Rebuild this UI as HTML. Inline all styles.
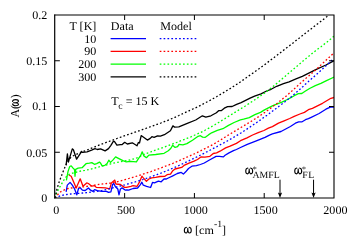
<!DOCTYPE html>
<html><head><meta charset="utf-8"><title>A(omega)</title>
<style>html,body{margin:0;padding:0;background:#fff;width:356px;height:249px;overflow:hidden;font-family:"Liberation Serif",serif}</style>
</head><body>
<svg width="356" height="249" viewBox="0 0 356 249" style="position:absolute;left:0;top:0">
<rect width="356" height="249" fill="#fff"/>
<clipPath id="c"><rect x="54.85" y="15.0" width="279.15" height="183.0"/></clipPath>
<g clip-path="url(#c)" fill="none" stroke-linejoin="round" stroke-linecap="butt"><g transform="translate(0.4,0.5)">
<path d="M65.7,191.3 L66.9,184.6 L69.7,181.9 L71.9,184.6 L74.2,188.5 L76.4,194.3 L78.1,188.0 L79.8,187.2 L82.0,189.6 L84.8,190.0 L88.0,187.5 L90.2,189.7 L92.5,190.8 L94.2,189.1 L97.0,190.2 L101.5,190.8 L106.0,190.8 L108.2,191.9 L110.5,191.3 L112.2,184.0 L113.3,182.9 L115.0,186.3 L117.4,188.5 L118.6,194.3 L120.0,188.5 L121.7,187.4 L125.1,189.7 L126.5,189.4 L128.2,189.7 L132.7,188.0 L137.2,187.5 L140.0,184.1 L141.5,181.7 L142.9,184.7 L146.2,185.8 L150.2,187.0 L152.1,181.9 L154.1,182.4 L158.0,180.7 L160.8,181.3 L163.6,178.5 L166.0,178.5 L167.9,177.5 L172.4,175.3 L176.9,173.0 L180.8,171.9 L183.0,173.6 L185.3,171.3 L188.1,168.0 L191.5,165.7 L196.0,165.2 L200.0,164.0 L203.9,162.5 L209.5,159.2 L215.7,155.9 L219.0,155.8 L223.0,156.4 L224.7,154.7 L228.6,152.4 L233.1,150.2 L236.0,149.0 L240.1,147.0 L246.9,143.8 L255.3,140.6 L257.8,139.6 L264.6,136.8 L269.1,134.6 L272.0,133.4 L280.6,131.0 L290.0,126.0 L295.0,122.7 L298.3,121.4 L301.7,121.3 L305.1,119.2 L308.0,118.2 L310.3,117.1 L318.7,113.0 L325.5,108.7 L330.5,106.3 L333.9,106.5" stroke="#0000ff" stroke-width="1.3"/>
<path d="M68.5,174.5 L70.8,175.8 L75.8,187.5 L79.8,178.3 L82.6,185.8 L86.3,182.4 L88.0,183.0 L91.4,185.7 L94.2,185.2 L95.9,186.9 L104.9,187.4 L109.3,188.4 L111.0,182.4 L114.4,179.6 L115.5,183.5 L120.0,184.0 L124.0,186.9 L126.0,186.9 L130.5,185.8 L132.7,185.2 L136.7,185.8 L138.9,181.9 L141.5,175.7 L142.9,177.4 L146.0,180.7 L148.5,178.5 L151.3,177.4 L155.2,176.8 L159.7,176.0 L164.5,175.8 L166.7,174.2 L170.1,173.6 L172.4,170.2 L174.6,168.5 L181.3,166.9 L184.2,164.6 L189.2,162.4 L193.7,160.7 L197.1,159.0 L200.5,156.5 L204.4,156.7 L209.5,155.8 L212.9,153.0 L216.2,152.4 L219.6,150.7 L225.2,147.4 L229.7,145.7 L236.0,142.9 L240.1,140.2 L246.6,137.3 L252.2,134.5 L257.8,132.2 L263.5,130.0 L268.0,127.7 L272.0,126.1 L278.1,122.6 L283.7,120.3 L289.3,118.0 L293.8,115.8 L299.5,113.5 L304.0,111.9 L308.0,109.2 L312.0,107.9 L322.1,102.8 L330.5,97.8 L333.9,96.9" stroke="#ff0000" stroke-width="1.3"/>
<path d="M66.0,179.8 L67.6,171.1 L69.3,166.0 L70.8,165.4 L72.7,167.7 L74.1,168.9 L74.6,175.8 L75.3,168.9 L77.7,167.7 L81.7,167.2 L85.6,163.2 L89.0,162.6 L91.4,162.1 L94.0,163.8 L96.3,163.1 L99.1,161.6 L100.0,162.4 L101.7,165.3 L104.5,164.8 L106.7,163.0 L108.4,159.7 L110.1,161.9 L112.4,159.6 L115.2,156.4 L118.0,157.9 L122.5,160.2 L125.8,161.3 L130.3,160.8 L136.0,161.3 L138.2,157.9 L140.1,155.4 L141.8,151.3 L143.5,155.4 L146.0,157.2 L148.5,154.6 L155.3,154.0 L163.7,152.8 L167.9,150.3 L170.5,147.8 L172.2,144.7 L174.7,146.9 L177.2,146.1 L178.6,143.8 L182.5,144.3 L186.5,143.1 L192.1,139.7 L197.7,135.8 L200.0,135.2 L202.2,136.6 L204.6,136.9 L208.0,134.4 L211.2,132.3 L216.9,129.9 L222.5,128.2 L228.1,124.9 L233.7,122.0 L240.0,119.3 L243.2,118.7 L248.9,117.1 L254.5,114.2 L260.1,111.9 L263.7,109.6 L268.0,107.4 L272.5,105.1 L277.0,103.4 L281.5,101.7 L286.0,99.5 L290.5,97.2 L293.8,95.2 L298.0,93.2 L301.4,93.0 L304.7,90.8 L309.2,88.0 L314.9,85.2 L320.5,82.9 L326.1,80.1 L333.9,76.5" stroke="#00ff00" stroke-width="1.3"/>
<path d="M65.7,164.9 L67.0,153.3 L68.0,161.5 L71.9,148.4 L73.0,149.2 L76.2,158.7 L80.3,152.4 L81.1,150.9 L82.2,151.9 L86.7,151.3 L91.2,149.7 L94.6,148.2 L96.9,149.0 L100.2,148.3 L104.7,150.4 L108.1,148.1 L110.5,144.8 L113.1,140.6 L114.3,141.3 L116.5,144.7 L120.0,144.1 L121.8,144.0 L124.3,141.8 L126.9,143.5 L131.9,142.3 L136.6,145.3 L138.0,142.0 L139.1,142.5 L140.8,135.1 L142.5,136.2 L147.0,139.6 L149.8,137.9 L151.5,136.2 L153.7,136.8 L157.1,135.3 L160.0,135.6 L164.0,134.2 L170.0,130.3 L172.5,125.4 L174.2,126.6 L178.4,126.3 L186.9,122.9 L195.3,119.5 L202.0,115.3 L205.4,116.6 L210.5,115.3 L216.0,112.2 L218.2,110.2 L221.1,110.0 L223.9,107.7 L227.2,106.1 L231.7,106.0 L236.2,103.8 L240.7,102.1 L245.2,99.9 L249.7,97.6 L254.2,95.6 L260.6,93.3 L266.2,90.5 L270.7,88.8 L276.3,85.8 L283.1,83.2 L288.7,81.3 L295.0,78.7 L301.9,75.8 L315.4,69.2 L325.5,64.5 L330.5,61.9 L333.9,60.2" stroke="#000000" stroke-width="1.3"/>
</g><g transform="translate(0.1,0.1)">
<path d="M54.9,198.0 L56.9,197.0 L58.9,196.2 L60.9,195.6 L62.9,195.1 L64.8,194.7 L66.8,194.4 L68.8,194.2 L70.8,193.9 L72.8,193.7 L74.8,193.5 L76.8,193.4 L78.8,193.2 L80.8,193.1 L82.8,192.9 L84.8,192.7 L86.8,192.5 L88.8,192.3 L90.8,192.0 L92.8,191.8 L94.8,191.6 L96.8,191.3 L98.8,191.0 L100.8,190.7 L102.8,190.3 L104.8,189.8 L106.8,189.3 L108.8,188.8 L110.8,188.3 L112.8,187.8 L114.8,187.3 L116.8,186.8 L118.8,186.3 L120.8,185.7 L122.8,185.2 L124.8,184.7 L126.8,184.1 L128.8,183.6 L130.8,183.0 L132.8,182.5 L134.8,181.9 L136.8,181.3 L138.8,180.7 L140.8,180.0 L142.8,179.4 L144.8,178.7 L146.8,178.1 L148.8,177.4 L150.8,176.7 L152.8,176.0 L154.8,175.2 L156.8,174.5 L158.8,173.7 L160.8,173.0 L162.8,172.2 L164.8,171.4 L166.8,170.6 L168.8,169.8 L170.8,168.9 L172.8,168.1 L174.8,167.2 L176.8,166.3 L178.8,165.4 L180.8,164.5 L182.8,163.6 L184.8,162.6 L186.8,161.7 L188.8,160.7 L190.8,159.7 L192.8,158.7 L194.8,157.8 L196.8,156.8 L198.8,155.8 L200.8,154.8 L202.8,153.8 L204.8,152.8 L206.8,151.7 L208.8,150.7 L210.8,149.6 L212.8,148.6 L214.8,147.5 L216.8,146.5 L218.8,145.4 L220.8,144.3 L222.8,143.3 L224.8,142.2 L226.8,141.1 L228.8,140.0 L230.8,138.8 L232.8,137.7 L234.8,136.5 L236.8,135.3 L238.8,134.1 L240.8,132.9 L242.8,131.6 L244.8,130.3 L246.8,129.0 L248.8,127.7 L250.8,126.3 L252.8,125.0 L254.8,123.6 L256.9,122.2 L258.9,120.8 L260.9,119.4 L262.9,117.9 L264.9,116.5 L266.9,115.1 L268.9,113.6 L270.9,112.2 L272.9,110.7 L274.9,109.2 L276.9,107.7 L278.9,106.2 L280.9,104.7 L282.9,103.2 L284.9,101.7 L286.9,100.1 L288.9,98.5 L290.9,96.9 L292.9,95.2 L294.9,93.5 L296.9,91.7 L298.9,90.0 L300.9,88.2 L302.9,86.4 L304.9,84.5 L306.9,82.8 L308.9,81.0 L310.9,79.2 L312.9,77.5 L314.9,75.7 L316.9,73.9 L318.9,72.1 L320.9,70.3 L322.9,68.5 L324.9,66.7 L326.9,64.8 L328.9,62.9 L330.9,61.0 L332.9,59.1 L333.5,58.5" stroke="#0000ff" stroke-width="1.3" stroke-dasharray="1.7 2.18"/>
<path d="M54.9,198.0 L56.9,195.3 L58.9,193.2 L60.9,191.5 L62.9,190.4 L64.8,189.6 L66.8,188.8 L68.8,188.2 L70.8,187.9 L72.8,187.7 L74.8,187.5 L76.8,187.3 L78.8,187.2 L80.8,187.0 L82.8,186.8 L84.8,186.6 L86.8,186.3 L88.8,186.0 L90.8,185.7 L92.8,185.3 L94.8,185.0 L96.8,184.7 L98.8,184.3 L100.8,184.1 L102.8,183.8 L104.8,183.6 L106.8,183.4 L108.8,183.2 L110.8,182.9 L112.8,182.5 L114.8,182.1 L116.8,181.7 L118.8,181.2 L120.8,180.7 L122.8,180.2 L124.8,179.6 L126.8,179.0 L128.8,178.4 L130.8,177.8 L132.8,177.2 L134.8,176.6 L136.8,176.0 L138.8,175.4 L140.8,174.7 L142.8,174.1 L144.8,173.5 L146.8,172.8 L148.8,172.1 L150.8,171.5 L152.8,170.8 L154.8,170.0 L156.8,169.3 L158.8,168.6 L160.8,167.8 L162.8,167.1 L164.8,166.3 L166.8,165.5 L168.8,164.8 L170.8,164.0 L172.8,163.2 L174.8,162.3 L176.8,161.5 L178.8,160.7 L180.8,159.8 L182.8,158.9 L184.8,158.0 L186.8,157.1 L188.8,156.2 L190.8,155.3 L192.8,154.4 L194.8,153.5 L196.8,152.5 L198.8,151.6 L200.8,150.6 L202.8,149.6 L204.8,148.6 L206.8,147.6 L208.8,146.6 L210.8,145.5 L212.8,144.4 L214.8,143.3 L216.8,142.1 L218.8,140.9 L220.8,139.7 L222.8,138.4 L224.8,137.1 L226.8,135.9 L228.8,134.6 L230.8,133.4 L232.8,132.2 L234.8,131.0 L236.8,129.8 L238.8,128.6 L240.8,127.4 L242.8,126.2 L244.8,125.0 L246.8,123.8 L248.8,122.6 L250.8,121.4 L252.8,120.1 L254.8,118.9 L256.9,117.6 L258.9,116.3 L260.9,114.9 L262.9,113.5 L264.9,112.2 L266.9,110.7 L268.9,109.3 L270.9,107.8 L272.9,106.3 L274.9,104.8 L276.9,103.3 L278.9,101.7 L280.9,100.2 L282.9,98.5 L284.9,96.9 L286.9,95.3 L288.9,93.5 L290.9,91.7 L292.9,89.9 L294.9,88.1 L296.9,86.3 L298.9,84.4 L300.9,82.6 L302.9,80.8 L304.9,79.0 L306.9,77.3 L308.9,75.6 L310.9,73.9 L312.9,72.2 L314.9,70.4 L316.9,68.6 L318.9,66.7 L320.9,64.8 L322.9,62.9 L324.9,61.1 L326.9,59.2 L328.9,57.3 L330.9,55.5 L332.9,53.6 L333.9,52.6" stroke="#ff0000" stroke-width="1.3" stroke-dasharray="1.7 2.18"/>
<path d="M54.9,198.0 L56.9,191.9 L58.9,188.2 L60.9,185.0 L62.9,181.3 L64.8,178.4 L66.8,175.8 L68.8,174.4 L70.8,173.6 L72.8,172.9 L74.8,172.4 L76.8,171.9 L78.8,171.3 L80.8,170.9 L82.8,170.5 L84.8,170.2 L86.8,169.9 L88.8,169.4 L90.8,169.0 L92.8,168.5 L94.8,167.9 L96.8,167.4 L98.8,166.9 L100.8,166.3 L102.8,165.8 L104.8,165.3 L106.8,164.7 L108.8,164.2 L110.8,163.7 L112.8,163.2 L114.8,162.8 L116.8,162.4 L118.8,162.0 L120.8,161.6 L122.8,161.2 L124.8,160.8 L126.8,160.4 L128.8,160.0 L130.8,159.5 L132.8,159.0 L134.8,158.4 L136.8,157.7 L138.8,156.9 L140.8,155.9 L142.8,154.9 L144.8,154.0 L146.8,153.2 L148.8,152.4 L150.8,151.7 L152.8,150.9 L154.8,150.2 L156.8,149.5 L158.8,148.8 L160.8,148.1 L162.8,147.4 L164.8,146.7 L166.8,146.0 L168.8,145.2 L170.8,144.5 L172.8,143.7 L174.8,142.9 L176.8,142.2 L178.8,141.4 L180.8,140.6 L182.8,139.9 L184.8,139.1 L186.8,138.3 L188.8,137.5 L190.8,136.7 L192.8,135.8 L194.8,134.9 L196.8,134.1 L198.8,133.1 L200.8,132.2 L202.8,131.2 L204.8,130.2 L206.8,129.1 L208.8,128.0 L210.8,126.9 L212.8,125.7 L214.8,124.6 L216.8,123.4 L218.8,122.2 L220.8,120.9 L222.8,119.7 L224.8,118.5 L226.8,117.2 L228.8,116.0 L230.8,114.8 L232.8,113.6 L234.8,112.3 L236.8,111.1 L238.8,109.8 L240.8,108.6 L242.8,107.3 L244.8,106.1 L246.8,104.8 L248.8,103.5 L250.8,102.2 L252.8,100.9 L254.8,99.6 L256.9,98.2 L258.9,96.8 L260.9,95.4 L262.9,94.0 L264.9,92.6 L266.9,91.1 L268.9,89.6 L270.9,88.0 L272.9,86.4 L274.9,84.8 L276.9,83.1 L278.9,81.4 L280.9,79.7 L282.9,78.0 L284.9,76.3 L286.9,74.5 L288.9,72.9 L290.9,71.2 L292.9,69.5 L294.9,67.8 L296.9,66.1 L298.9,64.4 L300.9,62.7 L302.9,61.0 L304.9,59.3 L306.9,57.6 L308.9,56.0 L310.9,54.3 L312.9,52.7 L314.9,51.1 L316.9,49.6 L318.9,48.0 L320.9,46.6 L322.9,45.1 L324.9,43.5 L326.9,42.0 L328.9,40.3 L330.9,38.7 L332.9,36.9 L333.8,36.1" stroke="#00ff00" stroke-width="1.3" stroke-dasharray="1.7 2.18"/>
<path d="M54.9,198.0 L56.9,188.7 L58.9,182.3 L60.9,176.9 L62.9,171.8 L64.8,167.2 L66.8,162.6 L68.8,159.3 L70.8,157.3 L72.8,155.9 L74.8,154.9 L76.8,154.0 L78.8,153.1 L80.8,152.3 L82.8,151.6 L84.8,150.8 L86.8,150.0 L88.8,149.2 L90.8,148.3 L92.8,147.5 L94.8,146.7 L96.8,145.9 L98.8,145.1 L100.8,144.3 L102.8,143.6 L104.8,142.8 L106.8,142.1 L108.8,141.4 L110.8,140.6 L112.8,139.9 L114.8,139.2 L116.8,138.4 L118.8,137.7 L120.8,137.0 L122.8,136.3 L124.8,135.6 L126.8,134.9 L128.8,134.2 L130.8,133.5 L132.8,132.8 L134.8,132.1 L136.8,131.4 L138.8,130.7 L140.8,130.0 L142.8,129.3 L144.8,128.6 L146.8,127.9 L148.8,127.2 L150.8,126.5 L152.8,125.8 L154.8,125.1 L156.8,124.3 L158.8,123.6 L160.8,122.9 L162.8,122.1 L164.8,121.3 L166.8,120.6 L168.8,119.8 L170.8,118.9 L172.8,118.1 L174.8,117.2 L176.8,116.3 L178.8,115.4 L180.8,114.4 L182.8,113.5 L184.8,112.6 L186.8,111.7 L188.8,110.7 L190.8,109.8 L192.8,108.9 L194.8,108.0 L196.8,107.1 L198.8,106.1 L200.8,105.1 L202.8,104.0 L204.8,103.0 L206.8,101.9 L208.8,100.9 L210.8,99.8 L212.8,98.6 L214.8,97.5 L216.8,96.4 L218.8,95.2 L220.8,94.0 L222.8,92.9 L224.8,91.7 L226.8,90.4 L228.8,89.2 L230.8,88.0 L232.8,86.7 L234.8,85.4 L236.8,84.1 L238.8,82.8 L240.8,81.4 L242.8,80.0 L244.8,78.6 L246.8,77.2 L248.8,75.8 L250.8,74.4 L252.8,73.0 L254.8,71.5 L256.9,70.1 L258.9,68.7 L260.9,67.2 L262.9,65.7 L264.9,64.3 L266.9,62.8 L268.9,61.2 L270.9,59.7 L272.9,58.2 L274.9,56.7 L276.9,55.2 L278.9,53.6 L280.9,52.1 L282.9,50.6 L284.9,49.0 L286.9,47.5 L288.9,46.0 L290.9,44.4 L292.9,42.9 L294.9,41.3 L296.9,39.7 L298.9,38.2 L300.9,36.6 L302.9,35.1 L304.9,33.5 L306.9,31.9 L308.9,30.4 L310.9,28.8 L312.9,27.3 L314.9,25.7 L316.9,24.2 L318.9,22.7 L320.9,21.1 L322.9,19.6 L324.9,18.0 L326.9,16.5 L328.0,15.6" stroke="#000000" stroke-width="1.3" stroke-dasharray="1.7 2.18"/>
</g></g>
<path d="M110.6,38.7 H146" stroke="#0000ff" stroke-width="1.3" fill="none"/>
<path d="M159.7,38.7 H196.4" stroke="#0000ff" stroke-width="1.3" stroke-dasharray="1.7 2.18" fill="none"/>
<path d="M110.6,51.4 H146" stroke="#ff0000" stroke-width="1.3" fill="none"/>
<path d="M159.7,51.4 H196.4" stroke="#ff0000" stroke-width="1.3" stroke-dasharray="1.7 2.18" fill="none"/>
<path d="M110.6,64.1 H146" stroke="#00ff00" stroke-width="1.3" fill="none"/>
<path d="M159.7,64.1 H196.4" stroke="#00ff00" stroke-width="1.3" stroke-dasharray="1.7 2.18" fill="none"/>
<path d="M110.6,76.8 H146" stroke="#000000" stroke-width="1.3" fill="none"/>
<path d="M159.7,76.8 H196.4" stroke="#000000" stroke-width="1.3" stroke-dasharray="1.7 2.18" fill="none"/>
<g stroke="#000" stroke-width="1.0" fill="none">
<path d="M54.35,15.0 H334.5 M54.35,198.0 H334.5 M334.0,15.0 V198.0" stroke-width="1.1"/>
<path d="M54.7,14.5 V198.5" stroke-width="1.2"/>
<path d="M54.85,152.25 h5"/>
<path d="M334.0,152.25 h-5"/>
<path d="M54.85,106.50 h5"/>
<path d="M334.0,106.50 h-5"/>
<path d="M54.85,60.75 h5"/>
<path d="M334.0,60.75 h-5"/>
<path d="M124.64,198.0 v-5"/>
<path d="M124.64,15.0 v5"/>
<path d="M194.42,198.0 v-5"/>
<path d="M194.42,15.0 v5"/>
<path d="M264.21,198.0 v-5"/>
<path d="M264.21,15.0 v5"/>
</g>
<path d="M280.0,179.7 V194" stroke="#000" stroke-width="1.0" fill="none"/>
<path d="M280.0,198.0 L277.9,192.6 L280.0,193.6 L282.1,192.6 Z" fill="#000"/>
<path d="M313.55,179.7 V194" stroke="#000" stroke-width="1.0" fill="none"/>
<path d="M313.55,198.0 L311.45,192.6 L313.55,193.6 L315.65000000000003,192.6 Z" fill="#000"/>
</svg>
<svg width="356" height="249" viewBox="0 0 356 249" style="position:absolute;left:0;top:0;will-change:transform;text-rendering:geometricPrecision">
<g font-family="Liberation Serif, serif" font-size="11.8" fill="#000">
<text transform="translate(47.4,202.25) scale(1.024,1)" text-anchor="end" >0</text>
<text transform="translate(47.4,157.35) scale(1.024,1)" text-anchor="end" >0.05</text>
<text transform="translate(47.4,110.35) scale(1.024,1)" text-anchor="end" >0.1</text>
<text transform="translate(47.4,65.25) scale(1.024,1)" text-anchor="end" >0.15</text>
<text transform="translate(47.4,19.00) scale(1.024,1)" text-anchor="end" >0.2</text>
<text transform="translate(56.25,214.15) scale(1.024,1)" text-anchor="middle" >0</text>
<text transform="translate(126.04,214.15) scale(1.024,1)" text-anchor="middle" >500</text>
<text transform="translate(195.82,214.15) scale(1.024,1)" text-anchor="middle" >1000</text>
<text transform="translate(265.61,214.15) scale(1.024,1)" text-anchor="middle" >1500</text>
<text transform="translate(335.40,214.15) scale(1.024,1)" text-anchor="middle" >2000</text>
<text transform="translate(96.4,29.8) scale(1.024,1)" text-anchor="end" >T [K]</text>
<text transform="translate(96.4,42.7) scale(1.024,1)" text-anchor="end" >10</text>
<text transform="translate(96.4,55.4) scale(1.024,1)" text-anchor="end" >90</text>
<text transform="translate(96.4,68.2) scale(1.024,1)" text-anchor="end" >200</text>
<text transform="translate(96.4,81.0) scale(1.024,1)" text-anchor="end" >300</text>
<text transform="translate(110.8,29.8) scale(1.024,1)" text-anchor="start" >Data</text>
<text transform="translate(160.3,29.8) scale(1.024,1)" text-anchor="start" >Model</text>
<text transform="translate(111.3,105.2) scale(1.024,1)" text-anchor="start" >T<tspan font-size="9.6" dy="3.9" dx="-0.4">c</tspan><tspan dy="-3.9"> = 15 K</tspan></text>
<path d="M186.42,227.25 C185.04,227.48 184.35,228.64 184.35,230.27 C184.35,232.06 184.97,233.05 186.08,233.05 C187.11,233.05 187.73,231.60 187.80,228.18 C187.87,231.60 188.49,233.05 189.53,233.05 C190.63,233.05 191.25,232.06 191.25,230.27 C191.25,228.64 190.56,227.48 189.18,227.25" fill="none" stroke="#000" stroke-width="1.1" stroke-linecap="round" stroke-linejoin="round" />
<text transform="translate(195.1,233.5) scale(1.024,1)" text-anchor="start" >[cm<tspan font-size="9.6" dy="-6.2">-1</tspan><tspan dy="6.2">]</tspan></text>
<text transform="translate(18.9,117.4) rotate(-90) scale(1,1.024)">A(</text>
<g transform="translate(18.9,106.0) rotate(-90)"><path d="M2.08,-6.35 C0.86,-6.11 0.25,-4.93 0.25,-3.28 C0.25,-1.45 0.80,-0.45 1.77,-0.45 C2.69,-0.45 3.24,-1.93 3.30,-5.41 C3.36,-1.93 3.91,-0.45 4.82,-0.45 C5.80,-0.45 6.35,-1.45 6.35,-3.28 C6.35,-4.93 5.74,-6.11 4.52,-6.35" fill="none" stroke="#000" stroke-width="1.1" stroke-linecap="round" stroke-linejoin="round" /></g>
<text transform="translate(18.9,98.3) rotate(-90) scale(1,1.024)">)</text>
<path d="M247.82,168.05 C246.44,168.28 245.75,169.44 245.75,171.07 C245.75,172.86 246.37,173.85 247.47,173.85 C248.51,173.85 249.13,172.40 249.20,168.98 C249.27,172.40 249.89,173.85 250.93,173.85 C252.03,173.85 252.65,172.86 252.65,171.07 C252.65,169.44 251.96,168.28 250.58,168.05" fill="none" stroke="#000" stroke-width="1.1" stroke-linecap="round" stroke-linejoin="round" />
<text transform="translate(252.4,177.7) scale(1.024,1)" text-anchor="start" font-size="9.6">AMFL</text>
<text transform="translate(252.4,172.4) scale(1.024,1)" text-anchor="start" font-size="8.5" fill="#222">*</text>
<path d="M296.82,168.05 C295.44,168.28 294.75,169.44 294.75,171.07 C294.75,172.86 295.37,173.85 296.48,173.85 C297.51,173.85 298.13,172.40 298.20,168.98 C298.27,172.40 298.89,173.85 299.93,173.85 C301.03,173.85 301.65,172.86 301.65,171.07 C301.65,169.44 300.96,168.28 299.58,168.05" fill="none" stroke="#000" stroke-width="1.1" stroke-linecap="round" stroke-linejoin="round" />
<text transform="translate(302.3,177.7) scale(1.024,1)" text-anchor="start" font-size="9.6" letter-spacing="0.5">FL</text>
<text transform="translate(301.8,172.4) scale(1.024,1)" text-anchor="start" font-size="8.5" fill="#222">*</text>
</g>
</svg>
</body></html>
